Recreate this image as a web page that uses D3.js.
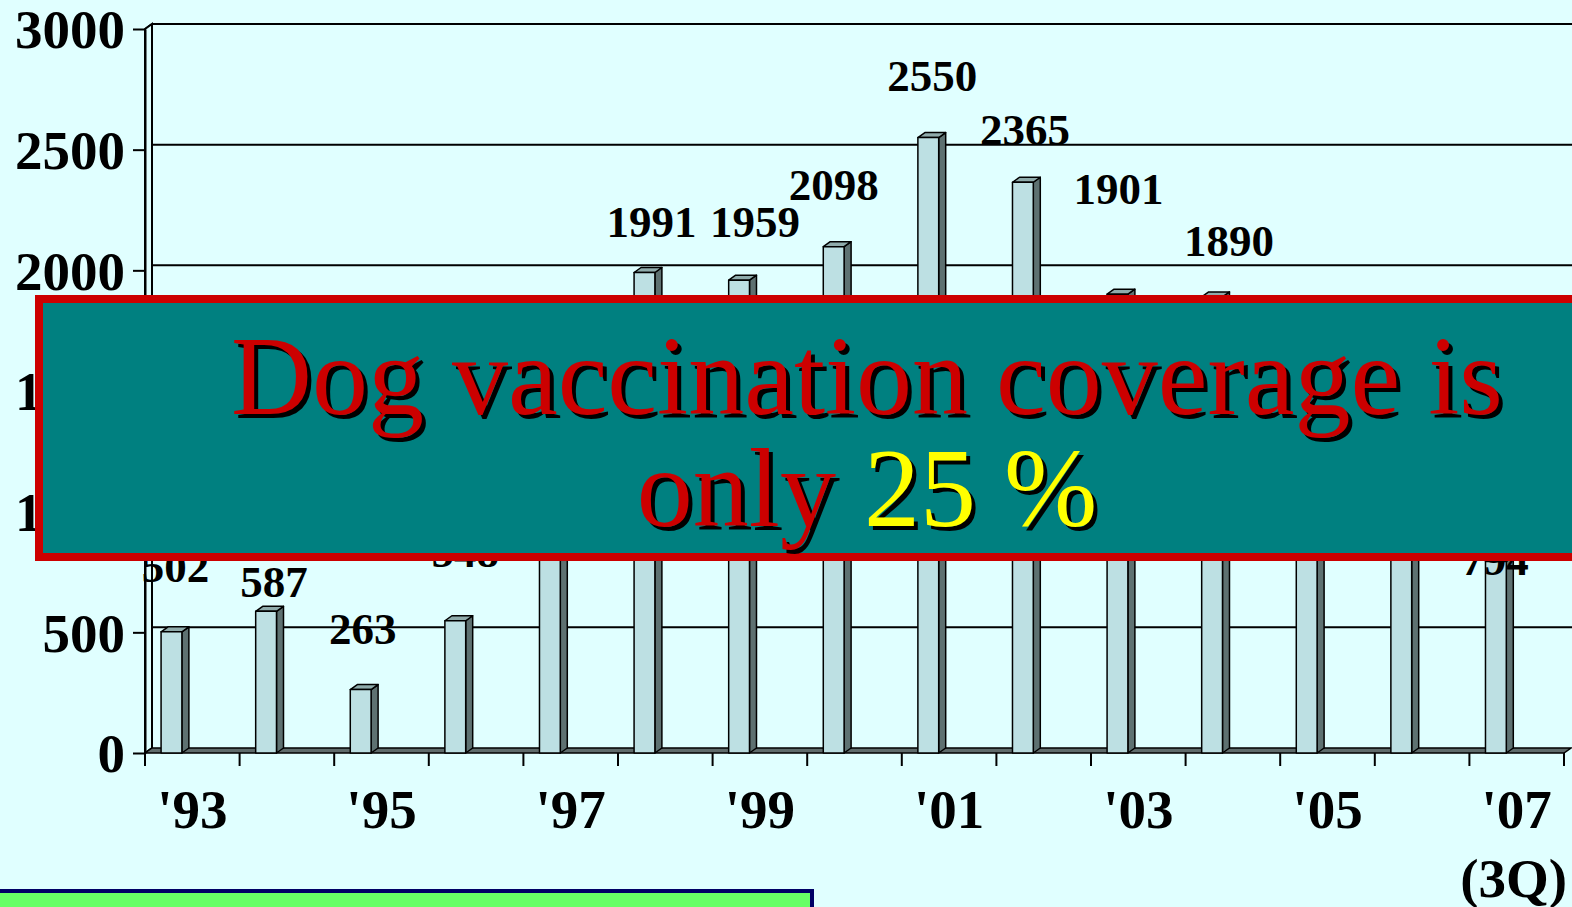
<!DOCTYPE html>
<html>
<head>
<meta charset="utf-8">
<script src="https://cdn.jsdelivr.net/npm/d3@7"></script>
<style>
  html, body { margin: 0; padding: 0; background: #e0ffff; overflow: hidden; }
  svg { display: block; }
</style>
</head>
<body>
<div id="chart"></div>
<script>
// years on the x axis, '07 is only up to the 3rd quarter
const years = ["'93", "'94", "'95", "'96", "'97", "'98", "'99", "'00", "'01", "'02", "'03", "'04", "'05", "'06", "'07"];
// cases per year (the ones under the banner are estimates)
const cases = [502, 587, 263, 548, 1300, 1991, 1959, 2098, 2550, 2365, 1901, 1890, 1500, 1350, 794];
const yTicks = [0, 500, 1000, 1500, 2000, 2500, 3000];
const shownYears = ["'93", "'95", "'97", "'99", "'01", "'03", "'05", "'07"];
const bannerLine1 = "Dog vaccination coverage is";
const bannerLine2a = "only ";
const bannerLine2b = "25 %";

// small per-label nudges, the labels in the original were dragged around by hand
const labelNudge = [[-1, -4], [3, 32], [-3, 0], [5, -8], [0, 0], [2, 10], [11, 3], [-5, -1], [-1, -1],
                    [-3, 9], [-4, -44], [12, 5], [0, 0], [0, 0], [-6, 60]];

const width = 1572, height = 907;
const depthX = 7, depthY = -5;   // fake 3d depth
const serif = "'Liberation Serif', 'Times New Roman', serif";

const svg = d3.select("#chart").append("svg")
    .attr("width", width)
    .attr("height", height);

svg.append("rect")
    .attr("width", width).attr("height", height)
    .attr("fill", "#e0ffff");

const x = d3.scaleBand().domain(years).range([145, 1564]);
const y = d3.scaleLinear().domain([0, 3000]).range([753, 29]);
const bw = x.bandwidth();

// back wall gridlines
const grid = svg.append("g").attr("stroke", "#000").attr("stroke-width", 2);
yTicks.filter(v => v > 0).forEach(v => {
  grid.append("line")
      .attr("x1", 145 + depthX).attr("x2", width)
      .attr("y1", y(v) + depthY).attr("y2", y(v) + depthY);
  grid.append("line")
      .attr("x1", 145).attr("x2", 145 + depthX)
      .attr("y1", y(v)).attr("y2", y(v) + depthY);
});

// left side wall
svg.append("path")
    .attr("d", `M145,${y(3000)}L${145 + depthX},${y(3000) + depthY}L${145 + depthX},${y(0) + depthY}L145,${y(0)}Z`)
    .attr("fill", "#e0ffff")
    .attr("stroke", "#000")
    .attr("stroke-width", 2);

// floor
svg.append("path")
    .attr("d", `M145,${y(0)}L1564,${y(0)}L${1564 + depthX},${y(0) + depthY}L${145 + depthX},${y(0) + depthY}Z`)
    .attr("fill", "#5f6b6b")
    .attr("stroke", "#000")
    .attr("stroke-width", 1.5);

const rows = years.map((yr, i) => ({ year: yr, value: cases[i], i: i }));

// bars
const bars = svg.append("g")
    .attr("stroke", "#000")
    .attr("stroke-width", 1.5)
    .attr("stroke-linejoin", "round")
  .selectAll("g")
  .data(rows)
  .enter().append("g");

const bx = d => x(d.year) + bw * 0.17;
const bwid = bw * 0.22;

bars.append("path")   // side
    .attr("d", d => {
      const x1 = bx(d) + bwid, t = y(d.value), b = y(0);
      return `M${x1},${t}L${x1 + depthX},${t + depthY}L${x1 + depthX},${b + depthY}L${x1},${b}Z`;
    })
    .attr("fill", "#5e7171");

bars.append("path")   // top
    .attr("d", d => {
      const x0 = bx(d), t = y(d.value);
      return `M${x0},${t}L${x0 + depthX},${t + depthY}L${x0 + bwid + depthX},${t + depthY}L${x0 + bwid},${t}Z`;
    })
    .attr("fill", "#8fabab");

bars.append("rect")   // front
    .attr("x", d => bx(d))
    .attr("y", d => y(d.value))
    .attr("width", bwid)
    .attr("height", d => y(0) - y(d.value))
    .attr("fill", "#bde0e3");

// value labels
svg.append("g")
  .selectAll("text")
  .data(rows)
  .enter().append("text")
    .attr("x", d => bx(d) + bwid / 2 + 5 + labelNudge[d.i][0])
    .attr("y", d => y(d.value) - 46 + labelNudge[d.i][1])
    .attr("text-anchor", "middle")
    .attr("font-family", serif)
    .attr("font-weight", "bold")
    .attr("font-size", 45)
    .attr("fill", "#000")
    .text(d => d.value);

// y axis
const yAxis = svg.append("g")
    .attr("transform", "translate(145,0)")
    .call(d3.axisLeft(y).tickValues(yTicks).tickFormat(d3.format("d"))
      .tickSize(12).tickSizeOuter(0).tickPadding(8));
yAxis.select(".domain").attr("stroke-width", 2);
yAxis.selectAll(".tick line").attr("stroke-width", 2);
yAxis.selectAll("text")
    .attr("font-family", serif)
    .attr("font-weight", "bold")
    .attr("font-size", 55)
    .attr("dy", "0.34em")
    .attr("fill", "#000");

// x axis: ticks on the category edges, labels on every other year
const xAxis = svg.append("g")
    .attr("transform", `translate(0,${y(0)})`)
    .call(d3.axisBottom(x).tickSize(0).tickPadding(36)
      .tickFormat(d => shownYears.includes(d) ? d : ""));
xAxis.select(".domain").remove();
xAxis.selectAll("text")
    .attr("font-family", serif)
    .attr("font-weight", "bold")
    .attr("font-size", 55)
    .attr("fill", "#000");

const edges = years.map(d => x(d)).concat([x.range()[1]]);
svg.append("g")
    .attr("stroke", "#000").attr("stroke-width", 2)
  .selectAll("line")
  .data(edges)
  .enter().append("line")
    .attr("x1", d => d).attr("x2", d => d)
    .attr("y1", y(0)).attr("y2", y(0) + 13);

svg.append("text")
    .attr("x", x("'07") + bw / 2 - 3)
    .attr("y", 897)
    .attr("text-anchor", "middle")
    .attr("font-family", serif)
    .attr("font-weight", "bold")
    .attr("font-size", 55)
    .text("(3Q)");

// banner on top
svg.append("rect")
    .attr("x", 39).attr("y", 299)
    .attr("width", 1560).attr("height", 258)
    .attr("fill", "#008080")
    .attr("stroke", "#cc0000")
    .attr("stroke-width", 8);

function bannerText(dx, dy, shadow) {
  const g = svg.append("g")
      .attr("font-family", serif)
      .attr("font-size", 112)
      .attr("text-anchor", "middle")
      .attr("transform", `translate(${dx},${dy})`);
  g.append("text")
      .attr("x", 867).attr("y", 414)
      .attr("fill", shadow ? "#000" : "#cc0000")
      .text(bannerLine1);
  const t = g.append("text")
      .attr("x", 867).attr("y", 526);
  t.append("tspan").attr("fill", shadow ? "#000" : "#cc0000").text(bannerLine2a);
  t.append("tspan").attr("fill", shadow ? "#000" : "#ffff00").text(bannerLine2b);
}
bannerText(4, 4, true);
bannerText(0, 0, false);

// green box at the bottom
svg.append("rect")
    .attr("x", -10).attr("y", 891)
    .attr("width", 822).attr("height", 40)
    .attr("fill", "#66ff66")
    .attr("stroke", "#000066")
    .attr("stroke-width", 4);
</script>
</body>
</html>
